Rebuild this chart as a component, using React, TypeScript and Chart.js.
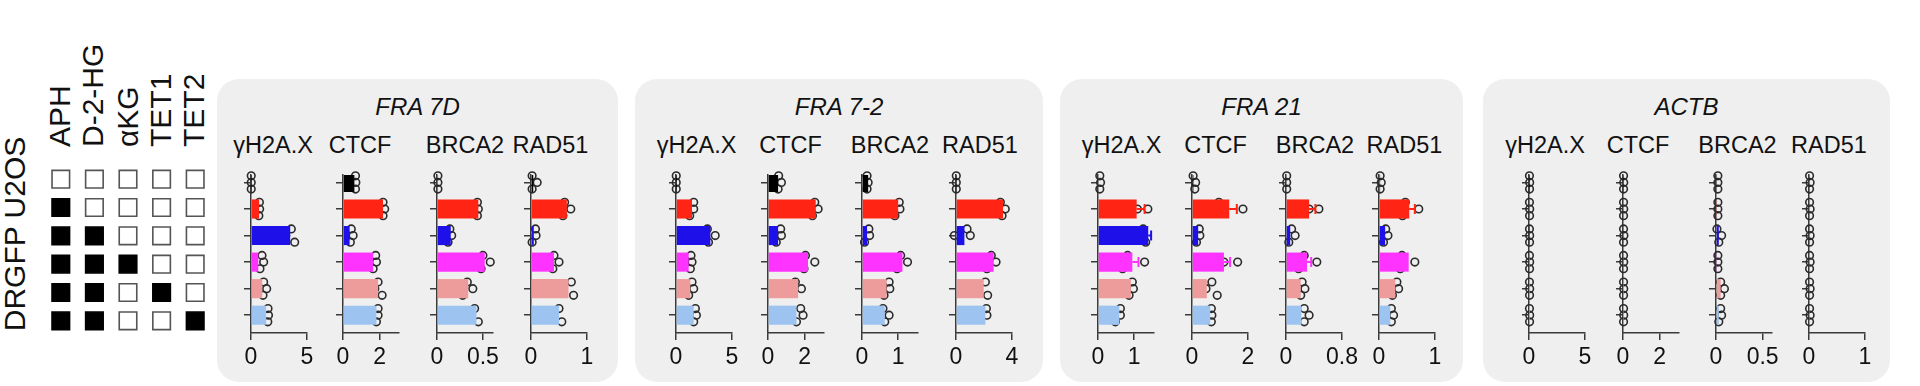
import React, { useEffect, useRef } from 'react';
import { Chart, registerables } from 'chart.js';

Chart.register(...registerables);

const FONT = '"Liberation Sans", Arial, Helvetica, sans-serif';

// ---------- labels ----------
const cellLine = 'DRGFP U2OS';
const treatments = ['APH', 'D-2-HG', 'αKG', 'TET1', 'TET2'];
const panelTitles = ['FRA 7D', 'FRA 7-2', 'FRA 21', 'ACTB'];
const geneLabels = ['γH2A.X', 'CTCF', 'BRCA2', 'RAD51'];

// treatment matrix (1 = filled square), one row per condition
const treatmentMatrix = [
  [0, 0, 0, 0, 0],
  [1, 0, 0, 0, 0],
  [1, 1, 0, 0, 0],
  [1, 1, 1, 0, 0],
  [1, 1, 0, 1, 0],
  [1, 1, 0, 0, 1],
];

const rowColors = ['#000000', '#ff2414', '#1d10e8', '#ff33ff', '#ee9b9b', '#9dc4f0'];

// ---------- axes ----------
const axisMax = [
  [5, 3.05, 0.61, 1],
  [5, 3.05, 1.55, 4],
  [1.55, 2, 0.8, 1],
  [5, 3.05, 0.6, 1],
];
const axisTick = [
  [5, 2, 0.5, 1],
  [5, 2, 1, 4],
  [1, 2, 0.8, 1],
  [5, 2, 0.5, 1],
];
const axisTickLabels = [
  ['5', '2', '0.5', '1'],
  ['5', '2', '1', '4'],
  ['1', '2', '0.8', '1'],
  ['5', '2', '0.5', '1'],
];

// ---------- FRA 7D ----------
const fra7d_h2ax_mean = [0.02, 0.72, 3.5, 0.65, 1.0, 1.35];
const fra7d_h2ax_reps = [[0.02, 0.02, 0.02], [0.75, 0.77, 0.7], [3.6, 3.1, 3.9], [0.98, 1.13, 0.8], [1.13, 1.4, 1.07], [1.52, 1.56, 1.5]];
const fra7d_ctcf_mean = [0.62, 2.18, 0.36, 1.64, 1.91, 1.82];
const fra7d_ctcf_reps = [[0.68, 0.7, 0.68], [2.18, 2.27, 2.18], [0.45, 0.55, 0.4], [1.78, 1.82, 1.64], [1.91, 1.73, 2.13], [1.91, 1.91, 1.82]];
const fra7d_brca2_mean = [0.01, 0.45, 0.15, 0.52, 0.34, 0.43];
const fra7d_brca2_reps = [[0.01, 0.01, 0.01], [0.44, 0.45, 0.44], [0.14, 0.16, 0.12], [0.5, 0.58, 0.48], [0.33, 0.39, 0.28], [0.41, 0.34, 0.45]];
const fra7d_rad51_mean = [0.04, 0.64, 0.05, 0.41, 0.67, 0.5];
const fra7d_rad51_reps = [[0.02, 0.11, 0.02], [0.6, 0.71, 0.57], [0.08, 0.09, 0.02], [0.41, 0.5, 0.39], [0.72, 0.51, 0.76], [0.5, 0.41, 0.55]];

// ---------- FRA 7-2 ----------
const fra72_h2ax_mean = [0.01, 1.43, 3.07, 1.13, 1.28, 1.58];
const fra72_h2ax_reps = [[0.02, 0.02, 0.02], [1.58, 1.58, 1.22], [2.8, 3.5, 2.9], [1.34, 1.43, 1.28], [1.43, 1.58, 1.13], [1.73, 1.82, 1.58]];
const fra72_ctcf_mean = [0.55, 2.6, 0.55, 2.18, 1.64, 1.55];
const fra72_ctcf_reps = [[0.58, 0.73, 0.55], [2.55, 2.73, 2.42], [0.69, 0.73, 0.45], [2.04, 2.55, 1.96], [1.49, 1.36, 1.82], [1.78, 1.91, 1.55]];
const fra72_brca2_mean = [0.17, 1.0, 0.14, 1.12, 0.68, 0.63];
const fra72_brca2_reps = [[0.14, 0.17, 0.14], [1.03, 1.05, 0.91], [0.19, 0.21, 0.07], [1.07, 1.26, 0.97], [0.75, 0.77, 0.61], [0.58, 0.75, 0.63]];
const fra72_rad51_mean = [0.02, 3.36, 0.6, 2.69, 1.98, 2.1];
const fra72_rad51_reps = [[0.02, 0.02, 0.02], [3.17, 3.52, 3.29], [0.79, 1.02, -0.12], [2.52, 2.86, 2.21], [2.1, 1.6, 2.26], [2.17, 2.21, 1.6]];

// ---------- FRA 21 ----------
const fra21_h2ax_mean = [0.0, 1.07, 1.39, 0.95, 0.91, 0.59];
const fra21_h2ax_reps = [[0.05, 0.07, 0.05], [0.77, 1.09, 1.38], [1.25, 1.2, 1.32], [0.82, 1.29, 0.68], [0.95, 0.98, 0.86], [0.62, 0.62, 0.48]];
const fra21_h2ax_sem = [0, 0.22, 0.08, 0.17, 0, 0];
const fra21_ctcf_mean = [0.05, 1.33, 0.22, 1.14, 0.53, 0.65];
const fra21_ctcf_reps = [[0.04, 0.13, 0.1], [0.96, 1.14, 1.82], [0.26, 0.28, 0.16], [0.83, 1.63, 1.14], [0.71, 0.5, 0.9], [0.69, 0.71, 0.69]];
const fra21_ctcf_sem = [0, 0.27, 0, 0.22, 0, 0];
const fra21_brca2_mean = [0.01, 0.33, 0.06, 0.3, 0.21, 0.22];
const fra21_brca2_reps = [[0.01, 0.01, 0.01], [0.23, 0.47, 0.33], [0.08, 0.13, 0.04], [0.26, 0.44, 0.18], [0.23, 0.27, 0.21], [0.26, 0.33, 0.26]];
const fra21_brca2_sem = [0, 0.09, 0, 0.06, 0, 0];
const fra21_rad51_mean = [0.02, 0.54, 0.11, 0.53, 0.29, 0.2];
const fra21_rad51_reps = [[0.02, 0.04, 0.02], [0.47, 0.71, 0.42], [0.12, 0.16, 0.08], [0.41, 0.64, 0.38], [0.32, 0.35, 0.24], [0.22, 0.26, 0.22]];
const fra21_rad51_sem = [0, 0.1, 0, 0, 0, 0];

// ---------- ACTB ----------
const actb_h2ax_mean = [0.02, 0.02, 0.02, 0.02, 0.02, 0.02];
const actb_h2ax_reps = [[0.04, 0.06, 0.05], [0.04, 0.06, 0.05], [0.04, 0.06, 0.05], [0.04, 0.06, 0.05], [0.04, 0.06, 0.05], [0.04, 0.06, 0.05]];
const actb_ctcf_mean = [0.02, 0.03, 0.03, 0.02, 0.02, 0.02];
const actb_ctcf_reps = [[0.03, 0.04, 0.03], [0.03, 0.04, 0.03], [0.03, 0.05, 0.03], [0.03, 0.04, 0.03], [0.03, 0.04, 0.03], [0.03, 0.04, 0.03]];
const actb_brca2_mean = [0.01, 0.01, 0.03, 0.01, 0.05, 0.03];
const actb_brca2_reps = [[0.02, 0.02, 0.02], [0.02, 0.02, 0.02], [0.01, 0.06, 0.03], [0.02, 0.02, 0.02], [0.05, 0.09, 0.05], [0.05, 0.06, 0.03]];
const actb_rad51_mean = [0.01, 0.01, 0.01, 0.01, 0.01, 0.01];
const actb_rad51_reps = [[0.01, 0.02, 0.01], [0.01, 0.02, 0.01], [0.01, 0.02, 0.01], [0.01, 0.02, 0.01], [0.01, 0.02, 0.01], [0.01, 0.02, 0.01]];

const noSem = [0, 0, 0, 0, 0, 0];

type Series = { mean: number[]; reps: number[][]; sem: number[] };

const panelSeries: Series[][] = [
  [
    { mean: fra7d_h2ax_mean, reps: fra7d_h2ax_reps, sem: noSem },
    { mean: fra7d_ctcf_mean, reps: fra7d_ctcf_reps, sem: noSem },
    { mean: fra7d_brca2_mean, reps: fra7d_brca2_reps, sem: noSem },
    { mean: fra7d_rad51_mean, reps: fra7d_rad51_reps, sem: noSem },
  ],
  [
    { mean: fra72_h2ax_mean, reps: fra72_h2ax_reps, sem: noSem },
    { mean: fra72_ctcf_mean, reps: fra72_ctcf_reps, sem: noSem },
    { mean: fra72_brca2_mean, reps: fra72_brca2_reps, sem: noSem },
    { mean: fra72_rad51_mean, reps: fra72_rad51_reps, sem: noSem },
  ],
  [
    { mean: fra21_h2ax_mean, reps: fra21_h2ax_reps, sem: fra21_h2ax_sem },
    { mean: fra21_ctcf_mean, reps: fra21_ctcf_reps, sem: fra21_ctcf_sem },
    { mean: fra21_brca2_mean, reps: fra21_brca2_reps, sem: fra21_brca2_sem },
    { mean: fra21_rad51_mean, reps: fra21_rad51_reps, sem: fra21_rad51_sem },
  ],
  [
    { mean: actb_h2ax_mean, reps: actb_h2ax_reps, sem: noSem },
    { mean: actb_ctcf_mean, reps: actb_ctcf_reps, sem: noSem },
    { mean: actb_brca2_mean, reps: actb_brca2_reps, sem: noSem },
    { mean: actb_rad51_mean, reps: actb_rad51_reps, sem: noSem },
  ],
];

// ---------- layout (pixels) ----------
const PANEL_LEFT = [217, 635, 1060, 1483];
const PANEL_RIGHT = [618, 1043, 1463, 1890];
const PANEL_TOP = 79;
const PANEL_BOTTOM = 382;
const AXIS_X = [
  [251, 343, 437, 531],
  [676, 768, 862, 956],
  [1098, 1192, 1286, 1379],
  [1529, 1623, 1716, 1809],
];
const LABEL_X = [
  [273, 360, 465, 550.5],
  [696.5, 790.5, 890, 980],
  [1121.5, 1215.5, 1315, 1404.5],
  [1545, 1638, 1737.5, 1829],
];
const AXIS_LEN = 56;
const PAD_L = 30;
const Y_AXIS_W = 7;
const PAD_R = 30;
const CANVAS_TOP = 150;
const AREA_TOP = 175;
const AREA_BOTTOM = 333;
const X_AXIS_H = 40;

const AXIS_COLOR = '#3a3a3a';

function SubPlot(props: {
  x0: number;
  max: number;
  tick: number;
  tickLabel: string;
  series: Series;
}) {
  const ref = useRef<HTMLCanvasElement>(null);
  const { x0, max, tick, tickLabel, series } = props;
  const width = PAD_L + Y_AXIS_W + AXIS_LEN + PAD_R;
  const height = AREA_BOTTOM - CANVAS_TOP + X_AXIS_H;
  useEffect(() => {
    if (!ref.current) return;
    const { mean, reps, sem } = series;
    const rows = mean.map((_, i) => i);
    const pxPerUnit = AXIS_LEN / max;
    const dots: { x: number; y: number }[] = [];
    reps.forEach((r, i) => {
      r.forEach((v, j) => {
        const collide = r.some((w, k) => k !== j && Math.abs(w - v) * pxPerUnit < 6);
        const off = collide ? (j - 1) * 0.25 : 0;
        dots.push({ x: v, y: i + off });
      });
    });
    const errPlugin = {
      id: 'errbars',
      afterDatasetDraw(chart: any, args: any) {
        if (args.index !== 0) return;
        const xs = chart.scales.x;
        const ys = chart.scales.y;
        const ctx = chart.ctx;
        sem.forEach((e, i) => {
          if (!e) return;
          const xa = xs.getPixelForValue(mean[i]);
          const xb = xs.getPixelForValue(mean[i] + e);
          const y = ys.getPixelForValue(i);
          ctx.save();
          ctx.strokeStyle = rowColors[i];
          ctx.lineWidth = 2;
          ctx.beginPath();
          ctx.moveTo(xa, y);
          ctx.lineTo(xb, y);
          ctx.moveTo(xb, y - 5);
          ctx.lineTo(xb, y + 5);
          ctx.stroke();
          ctx.restore();
        });
      },
    };
    const chart = new Chart(ref.current, {
      type: 'bar',
      data: {
        datasets: [
          {
            type: 'bar',
            data: mean.map((v, i) => ({ x: v, y: i })) as any,
            backgroundColor: rowColors,
            borderWidth: 0,
            barPercentage: 0.9,
            categoryPercentage: 0.8,
          } as any,
          {
            type: 'scatter',
            data: dots as any,
            pointRadius: 3.8,
            pointBorderWidth: 1.6,
            pointBorderColor: '#2b2b2b',
            pointBackgroundColor: 'rgba(0,0,0,0)',
            clip: false,
          } as any,
        ],
      },
      options: {
        indexAxis: 'y',
        animation: false,
        responsive: false,
        maintainAspectRatio: false,
        events: [],
        layout: { autoPadding: false, padding: { left: PAD_L, right: PAD_R, top: AREA_TOP - CANVAS_TOP, bottom: 0 } },
        plugins: { legend: { display: false }, tooltip: { enabled: false }, title: { display: false } },
        scales: {
          x: {
            type: 'linear',
            min: 0,
            max: max,
            offset: false,
            afterBuildTicks: (s: any) => {
              s.ticks = [{ value: 0 }, { value: tick }];
            },
            afterFit: (s: any) => {
              s.height = X_AXIS_H;
              s.paddingLeft = 0;
              s.paddingRight = 0;
            },
            ticks: {
              autoSkip: false,
              maxRotation: 0,
              padding: 4,
              color: '#111',
              font: { family: FONT, size: 23 },
              callback: (_v: any, idx: number) => (idx === 0 ? '0' : tickLabel),
            },
            grid: { offset: false, drawOnChartArea: false, drawTicks: true, tickLength: 7, color: AXIS_COLOR, lineWidth: 1.5 },
            border: { display: true, color: AXIS_COLOR, width: 1.5 },
          },
          y: {
            type: 'linear',
            reverse: true,
            offset: false,
            min: -0.28,
            max: 5.67,
            afterBuildTicks: (s: any) => {
              s.ticks = rows.map((v) => ({ value: v }));
            },
            afterFit: (s: any) => {
              s.width = Y_AXIS_W;
              s.paddingTop = 0;
              s.paddingBottom = 0;
            },
            ticks: { display: false },
            grid: { offset: false, drawOnChartArea: false, drawTicks: true, tickLength: Y_AXIS_W, color: AXIS_COLOR, lineWidth: 1.5 },
            border: { display: true, color: AXIS_COLOR, width: 1.5 },
          },
        },
      } as any,
      plugins: [errPlugin as any],
    });
    return () => chart.destroy();
  }, [x0, max, tick, tickLabel, series]);
  return (
    <canvas
      ref={ref}
      width={width}
      height={height}
      style={{ position: 'absolute', left: x0 - PAD_L - Y_AXIS_W, top: CANVAS_TOP, width, height }}
    />
  );
}

const MAT_LEFT = 44;
const MAT_TOP = 165;
const MAT_W = 168;
const MAT_H = 170;

function Matrix() {
  const ref = useRef<HTMLCanvasElement>(null);
  useEffect(() => {
    if (!ref.current) return;
    const filled: { x: number; y: number }[] = [];
    const empty: { x: number; y: number }[] = [];
    treatmentMatrix.forEach((row, r) =>
      row.forEach((v, c) => (v ? filled : empty).push({ x: c, y: r }))
    );
    const common = {
      pointStyle: 'rect',
      pointRadius: 12.4,
      pointBorderWidth: 1.6,
      clip: false,
    };
    const chart = new Chart(ref.current, {
      type: 'scatter',
      data: {
        datasets: [
          { ...common, data: empty, pointBackgroundColor: '#ffffff', pointBorderColor: '#555555' } as any,
          { ...common, data: filled, pointBackgroundColor: '#000000', pointBorderColor: '#000000' } as any,
        ],
      },
      options: {
        animation: false,
        responsive: false,
        maintainAspectRatio: false,
        events: [],
        layout: { autoPadding: false, padding: 0 },
        plugins: { legend: { display: false }, tooltip: { enabled: false } },
        scales: {
          x: { type: 'linear', min: -0.5, max: treatments.length - 0.5, display: false },
          y: { type: 'linear', min: -0.5, max: treatmentMatrix.length - 0.5, reverse: true, display: false },
        },
      } as any,
    });
    return () => chart.destroy();
  }, []);
  return (
    <canvas
      ref={ref}
      width={MAT_W}
      height={MAT_H}
      style={{ position: 'absolute', left: MAT_LEFT, top: MAT_TOP, width: MAT_W, height: MAT_H }}
    />
  );
}

const TREAT_X = [59.5, 93, 128, 160.5, 194];
const TREAT_BOTTOM = 147;
const TREAT_FONT = 30;

export default function App() {
  return (
    <div
      style={{
        position: 'absolute',
        left: 0,
        top: 0,
        width: 1920,
        height: 386,
        background: '#ffffff',
        overflow: 'hidden',
        fontFamily: FONT,
        color: '#111',
      }}
    >
      {panelTitles.map((t, p) => (
        <div
          key={'box' + p}
          style={{
            position: 'absolute',
            left: PANEL_LEFT[p],
            top: PANEL_TOP,
            width: PANEL_RIGHT[p] - PANEL_LEFT[p],
            height: PANEL_BOTTOM - PANEL_TOP,
            background: '#efefef',
            borderRadius: 22,
          }}
        />
      ))}
      {panelTitles.map((t, p) => (
        <div
          key={'title' + p}
          style={{
            position: 'absolute',
            left: (PANEL_LEFT[p] + PANEL_RIGHT[p]) / 2,
            top: 106.5,
            transform: 'translate(-50%, -50%)',
            fontSize: 24,
            fontStyle: 'italic',
            lineHeight: 1,
            whiteSpace: 'nowrap',
          }}
        >
          {t}
        </div>
      ))}
      {panelTitles.map((_, p) =>
        geneLabels.map((g, k) => (
          <div
            key={'gene' + p + '-' + k}
            style={{
              position: 'absolute',
              left: LABEL_X[p][k],
              top: 146,
              transform: 'translate(-50%, -50%)',
              fontSize: 23.5,
              lineHeight: 1,
              whiteSpace: 'nowrap',
            }}
          >
            {g}
          </div>
        ))
      )}
      <div
        style={{
          position: 'absolute',
          left: 15,
          top: 233.5,
          transform: 'translate(-50%, -50%) rotate(-90deg)',
          fontSize: 30,
          lineHeight: 1,
          whiteSpace: 'nowrap',
        }}
      >
        {cellLine}
      </div>
      {treatments.map((t, i) => (
        <div
          key={'tr' + i}
          style={{
            position: 'absolute',
            left: TREAT_X[i] - TREAT_FONT / 2,
            top: TREAT_BOTTOM,
            transform: 'rotate(-90deg)',
            transformOrigin: '0 0',
            fontSize: TREAT_FONT,
            lineHeight: 1,
            whiteSpace: 'nowrap',
          }}
        >
          {t}
        </div>
      ))}
      <Matrix />
      {panelSeries.map((ps, p) =>
        ps.map((s, k) => (
          <SubPlot
            key={'sp' + p + '-' + k}
            x0={AXIS_X[p][k]}
            max={axisMax[p][k]}
            tick={axisTick[p][k]}
            tickLabel={axisTickLabels[p][k]}
            series={s}
          />
        ))
      )}
    </div>
  );
}
